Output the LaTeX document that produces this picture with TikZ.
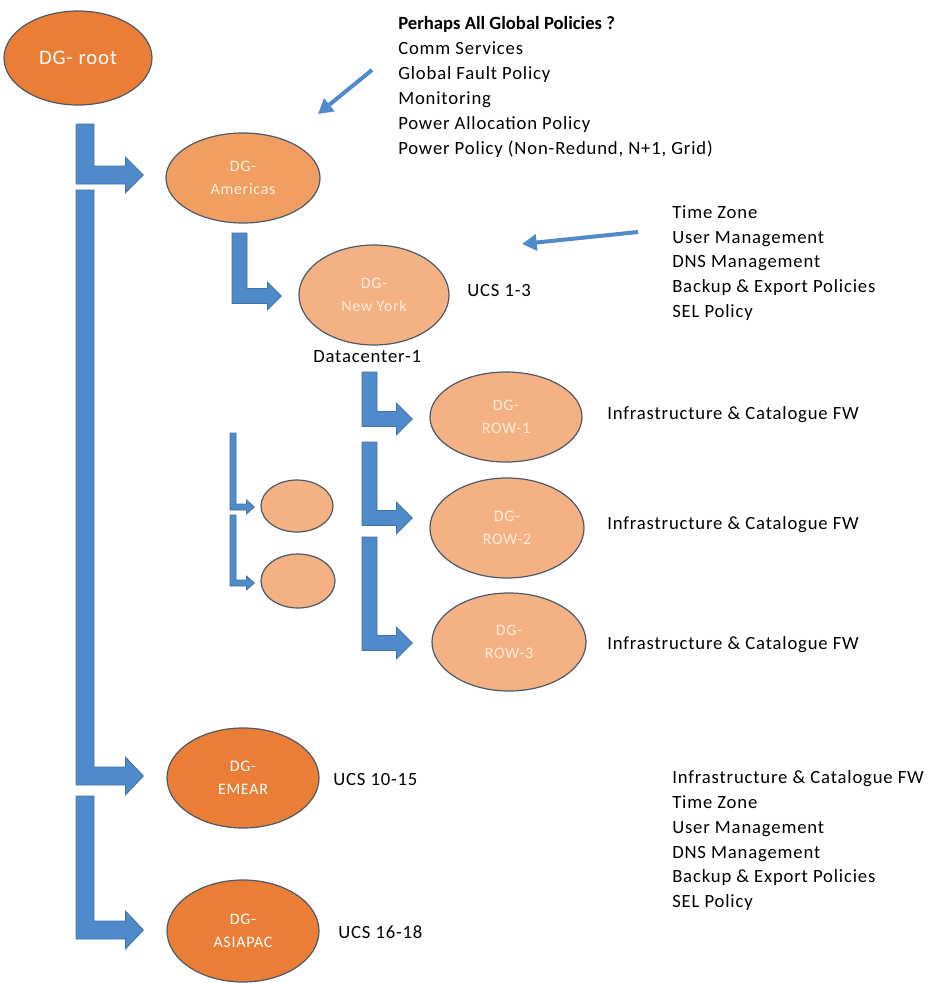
\documentclass[tikz,border=0pt]{standalone}
\usepackage{fontspec}
\setmainfont{Carlito}[LetterSpace=4.5, BoldFeatures={LetterSpace=0}]
\usetikzlibrary{calc,shapes.geometric,arrows.meta}

\definecolor{orangeDark}{HTML}{EB7E37}
\definecolor{orangeMid}{HTML}{F09E62}
\definecolor{peach}{HTML}{F4B183}
\definecolor{rim}{HTML}{4B5968}
\definecolor{arrowblue}{HTML}{4F8BCB}
\definecolor{arrowrim}{HTML}{41719C}

% bent block arrow: #1 target node, #2 tip offset from its west point,
% #3/#4 left x / top y of the vertical bar, #5 bar width,
% #6 half height of the head, #7 head length, #8 name prefix
\newcommand\elbowarrow[8]{%
  \coordinate (#8-tip) at ($(#1.west)+(#2)$);
  \coordinate (#8-top) at (#3,#4);
  \filldraw[elbow] (#8-top) -- ++(#5,0)
    -- ($(#8-top |- #8-tip)+(#5,-#5/2)$)
    -- ($(#8-tip)+(-#7,-#5/2)$)
    -- ($(#8-tip)+(-#7,-#6)$)
    -- (#8-tip)
    -- ($(#8-tip)+(-#7,#6)$)
    -- ($(#8-tip)+(-#7,#5/2)$)
    -- ($(#8-top |- #8-tip)+(0,#5/2)$) -- cycle;}

\begin{document}
\begin{tikzpicture}[x=0.75pt,y=-0.75pt,
  dg/.style 2 args={ellipse, draw=rim, line width=0.9pt, inner sep=0pt,
    minimum width=#1*1.5pt, minimum height=#2*1.5pt, align=center,
    font=\fontsize{12}{17}\selectfont},
  dark/.style={fill=orangeDark, text=white},
  mid/.style={fill=orangeMid, text=white!88!orange},
  light/.style={fill=peach, text=white!85!orange},
  elbow/.style={fill=arrowblue, draw=arrowrim, line width=0.6pt, line join=miter},
  pointer/.style={draw=arrowblue, line width=3pt, -{Triangle[length=11pt,width=12pt]}},
  label/.style={anchor=west, inner sep=0pt, font=\fontsize{14}{18.7}\selectfont},
  list/.style={anchor=north west, inner sep=0pt, align=left,
    font=\fontsize{14}{18.7}\selectfont}]

\useasboundingbox (0,0) rectangle (928,983);

% group nodes
\node[dg={74}{47}, dark, font=\fontsize{15.5}{17}\selectfont] (root) at (78,58) {DG- root};
\node[dg={77}{45}, mid]   (am)    at (243,178) {DG-\\Americas};
\node[dg={75}{50}, light] (ny)    at (374,295) {DG-\\New York};
\node[dg={76}{45}, light] (row1)  at (506,417) {DG-\\ROW-1};
\node[dg={77}{50}, light] (row2)  at (507,528) {DG-\\ROW-2};
\node[dg={77}{49}, light] (row3)  at (509,642) {DG-\\ROW-3};
\node[dg={36}{26}, light] (s1)    at (297,506) {};
\node[dg={37}{27}, light] (s2)    at (298,581) {};
\node[dg={76}{50}, dark]  (emear) at (243,778) {DG-\\EMEAR};
\node[dg={76}{51}, dark]  (asia)  at (243,931) {DG-\\ASIAPAC};

% hierarchy arrows
\elbowarrow{am}{-22,-3}{76}{124}{18}{18}{18}{a}
\elbowarrow{emear}{-23,-2}{76}{190}{18}{19}{18}{b}
\elbowarrow{asia}{-23,-1}{76}{796}{18}{19}{18}{c}
\elbowarrow{ny}{-17,1}{232}{233}{15}{14}{14}{d}
\elbowarrow{row1}{-17,2}{362}{372}{15}{16}{16}{e}
\elbowarrow{row2}{-17,-10}{362}{442}{15}{16}{16}{f}
\elbowarrow{row3}{-19,1}{362}{537}{15}{16}{16}{g}
\elbowarrow{s1}{-6,1}{230}{433}{6}{7}{8}{h}
\elbowarrow{s2}{-6,2}{230}{515}{6}{7}{8}{i}

% side labels
\node[label] (ucs1)  at (467,291) {UCS 1-3};
\node[label] (dc)    at (313,357) {Datacenter-1};
\node[label] (ucs10) at (333,780) {UCS 10-15};
\node[label] (ucs16) at (338,932) {UCS 16-18};
\node[label] (fw1)   at (607,415) {Infrastructure \& Catalogue FW};
\node[label] (fw2)   at (607,525) {Infrastructure \& Catalogue FW};
\node[label] (fw3)   at (607,645) {Infrastructure \& Catalogue FW};

% policy lists
\node[list] (glob) at (398,16) {\textbf{Perhaps All Global Policies ?}\\
  Comm Services\\ Global Fault Policy\\ Monitoring\\ Power Allocation Policy\\
  Power Policy (Non-Redund, N+1, Grid)};
\node[list] (site) at (672,205) {Time Zone\\ User Management\\ DNS Management\\
  Backup \& Export Policies\\ SEL Policy};
\node[list] (regional) at (672,770) {Infrastructure \& Catalogue FW\\ Time Zone\\
  User Management\\ DNS Management\\ Backup \& Export Policies\\ SEL Policy};

% pointers from the lists
\coordinate (globfrom) at (372,70);
\coordinate (globto)   at (318,114);
\coordinate (sitefrom) at (638,232);
\coordinate (siteto)   at (522,244);
\draw[pointer] (globfrom) -- (globto);
\draw[pointer] (sitefrom) -- (siteto);
\end{tikzpicture}
\end{document}
